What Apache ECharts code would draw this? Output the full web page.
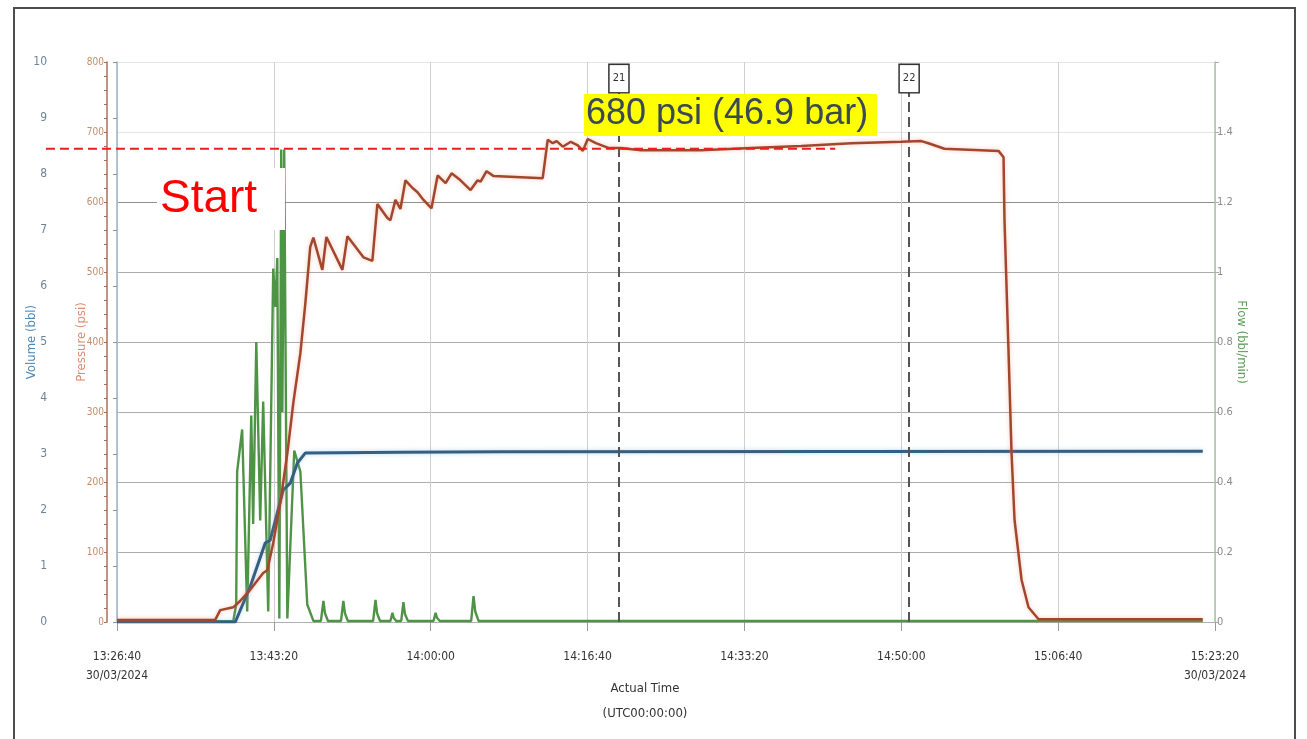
<!DOCTYPE html>
<html>
<head>
<meta charset="utf-8">
<script src="https://cdn.jsdelivr.net/npm/echarts@6/dist/echarts.min.js"></script>
<style>html,body{margin:0;padding:0;background:#fff;overflow:hidden}#c{width:1307px;height:739px}</style>
</head>
<body>
<div id="c"></div>
<script>
// time values: seconds after 13:26:40 on 30/03/2024
const startClock = 48400;               // 13:26:40 in seconds of day
const dateLabel = '30/03/2024';

const pressureTime = [0, 626, 658, 741, 785, 849, 932, 958, 996, 1041, 1086, 1124, 1169, 1201, 1232, 1252, 1309, 1335, 1437, 1469, 1571, 1628, 1660, 1724, 1743, 1775, 1807, 1839, 1884, 1916, 1954, 2005, 2044, 2095, 2133, 2190, 2254, 2299, 2318, 2356, 2401, 2714, 2746, 2778, 2803, 2842, 2893, 2938, 2970, 3001, 3053, 3136, 3212, 3340, 3723, 4042, 4362, 4681, 5000, 5128, 5173, 5275, 5620, 5652, 5658, 5684, 5703, 5722, 5767, 5811, 5875, 6922];
const pressurePsi = [3, 3, 17, 21, 30, 46, 70, 74, 113, 170, 241, 313, 384, 456, 536, 549, 503, 550, 503, 551, 521, 516, 597, 577, 574, 603, 590, 631, 620, 614, 603, 591, 638, 627, 641, 631, 617, 631, 629, 644, 637, 634, 689, 684, 687, 679, 686, 681, 673, 690, 684, 677, 677, 674, 674, 677, 680, 684, 686, 687, 684, 676, 673, 664, 574, 384, 241, 146, 60, 21, 4, 4];

const volumeTime = [0, 754, 849, 945, 977, 1060, 1105, 1150, 1201, 1807, 2446, 6922];
const volumeBbl = [0, 0, 0.63, 1.41, 1.46, 2.36, 2.48, 2.84, 3.02, 3.03, 3.04, 3.05];

const flowTime = [0, 741, 760, 766, 798, 830, 856, 868, 888, 913, 932, 964, 996, 1009, 1022, 1035, 1047, 1054, 1066, 1086, 1130, 1169, 1213, 1252,
  1300, 1316, 1326, 1345,
  1428, 1443, 1453, 1472,
  1633, 1648, 1658, 1677,
  1743, 1756, 1764, 1780,
  1812, 1826, 1836, 1855,
  2018, 2031, 2040, 2058,
  2258, 2273, 2284, 2305,
  6922];
const flowRate = [0.002, 0.002, 0.05, 0.43, 0.55, 0.03, 0.59, 0.28, 0.80, 0.29, 0.63, 0.03, 1.01, 0.90, 1.04, 0.01, 1.35, 0.6, 1.35, 0.01, 0.49, 0.43, 0.05, 0.003,
  0.003, 0.06, 0.025, 0.003,
  0.003, 0.06, 0.025, 0.003,
  0.003, 0.063, 0.025, 0.003,
  0.003, 0.026, 0.012, 0.003,
  0.003, 0.057, 0.022, 0.003,
  0.003, 0.026, 0.012, 0.003,
  0.003, 0.074, 0.03, 0.003,
  0.003];

const eventTimes = [3200, 5050];
const eventLabels = ['21', '22'];
const eventTopPsi = 757;

const refLineTime = [-453, 4579];
const refLinePsi = 676;

const xTicks = [0, 1000, 2000, 3000, 4000, 5000, 6000, 7000];

function pair(a, b) { return a.map((v, i) => [v, b[i]]); }
function clock(v) {
  const t = startClock + v;
  const h = Math.floor(t / 3600), m = Math.floor((t % 3600) / 60), s = t % 60;
  return h + ':' + String(m).padStart(2, '0') + ':' + String(s).padStart(2, '0');
}

const narrow = "'Liberation Sans Narrow','DejaVu Sans Condensed','Roboto Condensed',sans-serif";
const sans = "'Liberation Sans',Arial,sans-serif";

const chart = echarts.init(document.getElementById('c'), null, {renderer: 'canvas', width: 1307, height: 739});
chart.setOption({
  animation: false,
  backgroundColor: '#ffffff',
  grid: {left: 117, right: 92, top: 62, bottom: 117, containLabel: false},
  xAxis: {
    type: 'value', min: xTicks[0], max: xTicks[xTicks.length - 1], interval: 1000,
    offset: 10,
    axisLine: {show: false},
    axisTick: {show: true, length: 9, lineStyle: {color: '#999'}},
    axisLabel: {
      margin: 15, color: '#333', fontSize: 12, fontFamily: narrow, lineHeight: 19,
      showMinLabel: true, showMaxLabel: true,
      formatter: v => (v === xTicks[0] || v === xTicks[xTicks.length - 1]) ? clock(v) + '\n' + dateLabel : clock(v)
    },
    splitLine: {show: true, lineStyle: {color: '#cfcfcf', width: 1}},
    name: 'Actual Time\n(UTC00:00:00)', nameLocation: 'middle', nameGap: 44, nameMoveOverlap: false,
    nameTextStyle: {color: '#333', fontSize: 13, fontFamily: narrow, lineHeight: 25, padding: [0, 42, 0, 0]}
  },
  yAxis: [
    {
      type: 'value', position: 'left', offset: 65, min: 0, max: 10, interval: 1,
      axisLine: {show: true, lineStyle: {color: '#9fb5c9', width: 1.5}},
      axisTick: {show: true, length: 4, lineStyle: {color: '#7f97ad'}},
      axisLabel: {margin: 5, color: '#6f8399', fontSize: 12, fontFamily: narrow},
      splitLine: {show: false},
      name: 'Volume (bbl)', nameLocation: 'middle', nameGap: 14, nameRotate: 90, nameMoveOverlap: false,
      nameTextStyle: {color: '#4d86b2', fontSize: 13, fontFamily: narrow}
    },
    {
      type: 'value', position: 'left', offset: 10, min: 0, max: 800, interval: 100,
      axisLine: {show: true, lineStyle: {color: '#a87058', width: 1.5}},
      axisTick: {show: true, length: 3, lineStyle: {color: '#a87058'}},
      minorTick: {show: true, splitNumber: 5, length: 3, lineStyle: {color: '#a87058'}},
      axisLabel: {margin: 3, color: '#c18d6c', fontSize: 10, fontFamily: narrow},
      splitLine: {show: true, lineStyle: {color: ['#b0b0b0', '#acacac', '#acacac', '#acacac', '#acacac', '#acacac', '#8f8f8f', '#e6e6e6', '#e6e6e6'], width: 1.2}},
      name: 'Pressure (psi)', nameLocation: 'middle', nameGap: 19, nameRotate: 90, nameMoveOverlap: false,
      nameTextStyle: {color: '#d98c6c', fontSize: 13, fontFamily: narrow}
    },
    {
      type: 'value', position: 'right', offset: 0, min: 0, max: 1.6, interval: 0.2,
      axisLine: {show: true, lineStyle: {color: '#a9c9a2', width: 1.5}},
      axisTick: {show: true, length: 4, lineStyle: {color: '#9dbb94'}},
      axisLabel: {margin: 2, color: '#8a8a8a', fontSize: 11, fontFamily: narrow,
        formatter: v => v > 1.5 ? '' : String(Math.round(v * 10) / 10)},
      splitLine: {show: false},
      name: 'Flow (bbl/min)', nameLocation: 'middle', nameGap: 20, nameRotate: -90, nameMoveOverlap: false,
      nameTextStyle: {color: '#5c9e58', fontSize: 13, fontFamily: narrow}
    }
  ],
  series: [
    {
      name: 'Flow', type: 'line', yAxisIndex: 2, data: pair(flowTime, flowRate),
      showSymbol: false, symbol: 'none', z: 3,
      lineStyle: {color: '#4f9446', width: 2.4}
    },
    {
      name: 'Volume', type: 'line', yAxisIndex: 0, data: pair(volumeTime, volumeBbl),
      showSymbol: false, symbol: 'none', z: 4,
      lineStyle: {color: '#355f80', width: 3, shadowColor: 'rgba(120,180,230,0.5)', shadowBlur: 4}
    },
    {
      name: 'Pressure', type: 'line', yAxisIndex: 1, data: pair(pressureTime, pressurePsi),
      showSymbol: false, symbol: 'none', z: 5,
      lineStyle: {color: '#a3462e', width: 2.5, shadowColor: 'rgba(235,130,90,0.45)', shadowBlur: 4},
      markLine: {
        silent: true, symbol: ['none', 'none'], animation: false,
        lineStyle: {color: '#555', width: 2, type: [10, 5]},
        label: {
          show: true, position: 'end', distance: 0, color: '#333', fontSize: 11, fontFamily: narrow,
          backgroundColor: '#fff', borderColor: '#333', borderWidth: 1.5, padding: [8, 3, 8, 3]
        },
        data: eventTimes.map((t, i) => [
          {coord: [t, 0], label: {formatter: eventLabels[i]}},
          {coord: [t, eventTopPsi]}
        ])
      }
    }
  ]
});

// reference line endpoints converted through the chart's own scales
const refA = chart.convertToPixel({seriesIndex: 2}, [refLineTime[0], refLinePsi]);
const refB = chart.convertToPixel({seriesIndex: 2}, [refLineTime[1], refLinePsi]);

chart.setOption({
  graphic: [
    {type: 'rect', z: 100, silent: true, shape: {x: 14, y: 8, width: 1281, height: 800},
      style: {fill: 'none', stroke: '#4d4d4d', lineWidth: 2}},
    {type: 'line', z: 99, silent: true, shape: {x1: refA[0], y1: refA[1], x2: refB[0], y2: refB[1]},
      style: {stroke: '#ee1c1c', lineWidth: 2, lineDash: [9, 5]}},
    {type: 'rect', z: 100, silent: true, shape: {x: 157, y: 168, width: 128, height: 62}, style: {fill: '#ffffff'}},
    {type: 'text', z: 101, silent: true, x: 160, y: 199,
      style: {text: 'Start', fill: '#ff0000', fontSize: 46, fontFamily: sans, verticalAlign: 'middle'}},
    {type: 'rect', z: 100, silent: true, shape: {x: 584, y: 94, width: 293, height: 42}, style: {fill: '#ffff00'}},
    {type: 'text', z: 101, silent: true, x: 586, y: 114,
      style: {text: '680 psi (46.9 bar)', fill: '#3a4955', fontSize: 36, fontFamily: sans, verticalAlign: 'middle'}}
  ]
});
</script>
</body>
</html>
